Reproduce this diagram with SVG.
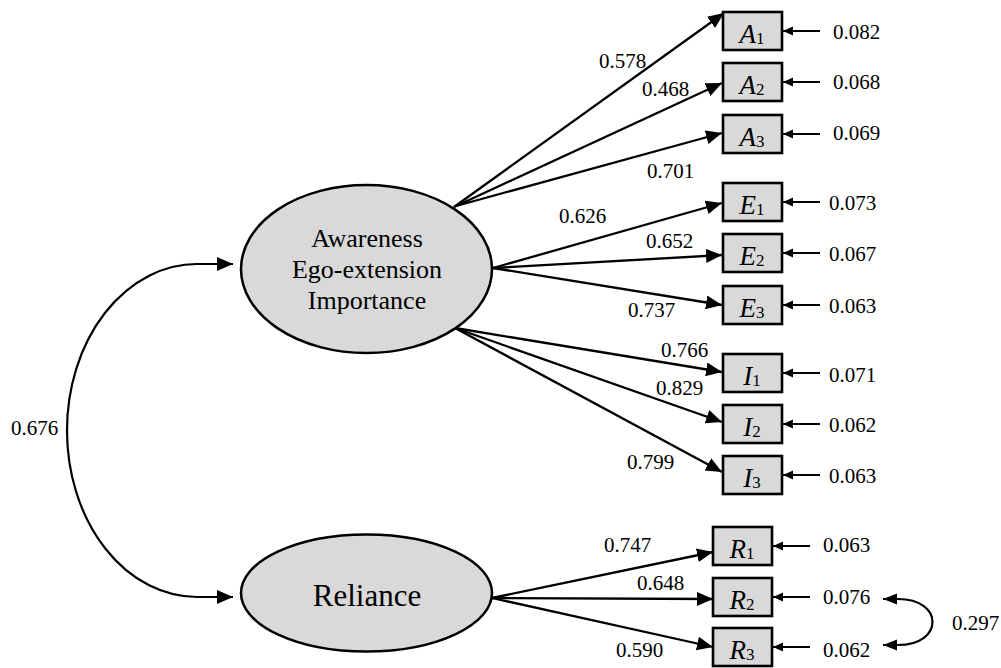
<svg xmlns="http://www.w3.org/2000/svg" width="1001" height="668" viewBox="0 0 1001 668">
<defs>
<marker id="big" markerUnits="userSpaceOnUse" markerWidth="17" markerHeight="15" refX="16" refY="7" orient="auto-start-reverse">
<path d="M0,0 L16,7 L0,14 z" fill="#000"/>
</marker>
<marker id="small" markerUnits="userSpaceOnUse" markerWidth="11" markerHeight="10" refX="10" refY="4.5" orient="auto-start-reverse">
<path d="M0,0 L10,4.5 L0,9 z" fill="#000"/>
</marker>
<marker id="cov" markerUnits="userSpaceOnUse" markerWidth="15" markerHeight="12" refX="14" refY="5.5" orient="auto-start-reverse">
<path d="M0,0 L14,5.5 L0,11 z" fill="#000"/>
</marker>
</defs>
<style>
.box{fill:#d9d9d9;stroke:#000;stroke-width:2.6}
.lat{fill:#d9d9d9;stroke:#000;stroke-width:2.5}
.ln{fill:none;stroke:#000;stroke-width:2.3;marker-end:url(#big)}
.er{fill:none;stroke:#000;stroke-width:2.2;marker-end:url(#small)}
.cv{fill:none;stroke:#000;stroke-width:2.2}
text{font-family:'Liberation Serif','Times New Roman','DejaVu Serif',serif;fill:#000}
.num{font-size:21px}
.lbl{font-size:27px;text-anchor:middle}
.v{font-style:italic}
.s{font-size:17px}
.lt{text-anchor:middle}
</style>
<rect width="1001" height="668" fill="#fff"/>

<g id="connectors">
<path class="ln" d="M454,207 L724,13"/>
<path class="ln" d="M454,207 L722,83"/>
<path class="ln" d="M456,206 L722,133"/>
<path class="ln" d="M493,268 L722,203"/>
<path class="ln" d="M493,268 L722,255"/>
<path class="ln" d="M493,268 L722,305"/>
<path class="ln" d="M455,328 L722,372"/>
<path class="ln" d="M455,328 L722,422"/>
<path class="ln" d="M455,328 L722,472"/>
<path class="ln" d="M492,598 L713,552"/>
<path class="ln" d="M492,598 L713,599"/>
<path class="ln" d="M492,598 L713,647"/>
<path class="er" d="M820,31 L783,31"/>
<path class="er" d="M820,82 L783,82"/>
<path class="er" d="M820,134 L783,134"/>
<path class="er" d="M820,202 L783,202"/>
<path class="er" d="M820,253 L783,253"/>
<path class="er" d="M820,305 L783,305"/>
<path class="er" d="M820,373 L783,373"/>
<path class="er" d="M820,424 L783,424"/>
<path class="er" d="M820,475 L783,475"/>
<path class="er" d="M810,546 L773,546"/>
<path class="er" d="M810,597 L773,597"/>
<path class="er" d="M810,647 L773,647"/>
<path class="cv" d="M233,264 L197,264 A130,166.5 0 0 0 197,597 L233,597" marker-start="url(#big)" marker-end="url(#big)"/>
<path class="cv" d="M883,599 L898,599 C944,599 944,645 898,645 L883,645" marker-start="url(#cov)" marker-end="url(#cov)"/>
</g>

<g id="latent-aei">
<ellipse class="lat" cx="366.5" cy="269" rx="125.5" ry="84"/>
<text class="lt" font-size="26" x="367" y="247">Awareness</text>
<text class="lt" font-size="26" x="367" y="278">Ego-extension</text>
<text class="lt" font-size="26" x="367" y="309">Importance</text>
</g>
<g id="latent-reliance">
<ellipse class="lat" cx="366.5" cy="593" rx="125.5" ry="58.5"/>
<text class="lt" font-size="31" x="367" y="606">Reliance</text>
</g>

<g id="node-A1"><rect class="box" x="723" y="12" width="59" height="38"/><text class="lbl" x="752" y="43"><tspan class="v">A</tspan><tspan class="s" dy="1">1</tspan></text></g>
<g id="node-A2"><rect class="box" x="723" y="63" width="59" height="38"/><text class="lbl" x="752" y="94"><tspan class="v">A</tspan><tspan class="s" dy="1">2</tspan></text></g>
<g id="node-A3"><rect class="box" x="723" y="115" width="59" height="38"/><text class="lbl" x="752" y="146"><tspan class="v">A</tspan><tspan class="s" dy="1">3</tspan></text></g>
<g id="node-E1"><rect class="box" x="723" y="183" width="59" height="38"/><text class="lbl" x="752" y="214"><tspan class="v">E</tspan><tspan class="s" dy="1">1</tspan></text></g>
<g id="node-E2"><rect class="box" x="723" y="234" width="59" height="38"/><text class="lbl" x="752" y="265"><tspan class="v">E</tspan><tspan class="s" dy="1">2</tspan></text></g>
<g id="node-E3"><rect class="box" x="723" y="286" width="59" height="38"/><text class="lbl" x="752" y="317"><tspan class="v">E</tspan><tspan class="s" dy="1">3</tspan></text></g>
<g id="node-I1"><rect class="box" x="723" y="354" width="59" height="38"/><text class="lbl" x="752" y="385"><tspan class="v">I</tspan><tspan class="s" dy="1">1</tspan></text></g>
<g id="node-I2"><rect class="box" x="723" y="405" width="59" height="38"/><text class="lbl" x="752" y="436"><tspan class="v">I</tspan><tspan class="s" dy="1">2</tspan></text></g>
<g id="node-I3"><rect class="box" x="723" y="456" width="59" height="38"/><text class="lbl" x="752" y="487"><tspan class="v">I</tspan><tspan class="s" dy="1">3</tspan></text></g>
<g id="node-R1"><rect class="box" x="713" y="527" width="59" height="38"/><text class="lbl" x="742" y="558"><tspan class="v">R</tspan><tspan class="s" dy="1">1</tspan></text></g>
<g id="node-R2"><rect class="box" x="713" y="578" width="59" height="38"/><text class="lbl" x="742" y="609"><tspan class="v">R</tspan><tspan class="s" dy="1">2</tspan></text></g>
<g id="node-R3"><rect class="box" x="713" y="628" width="59" height="38"/><text class="lbl" x="742" y="659"><tspan class="v">R</tspan><tspan class="s" dy="1">3</tspan></text></g>

<g id="labels">
<text class="num" x="599" y="68">0.578</text>
<text class="num" x="642" y="96">0.468</text>
<text class="num" x="647" y="178">0.701</text>
<text class="num" x="559" y="223">0.626</text>
<text class="num" x="646" y="248">0.652</text>
<text class="num" x="628" y="317">0.737</text>
<text class="num" x="661" y="357">0.766</text>
<text class="num" x="656" y="395">0.829</text>
<text class="num" x="627" y="469">0.799</text>
<text class="num" x="604" y="552">0.747</text>
<text class="num" x="637" y="590">0.648</text>
<text class="num" x="616" y="657">0.590</text>
<text class="num" x="833" y="39">0.082</text>
<text class="num" x="833" y="89">0.068</text>
<text class="num" x="833" y="140">0.069</text>
<text class="num" x="829" y="210">0.073</text>
<text class="num" x="829" y="261">0.067</text>
<text class="num" x="829" y="313">0.063</text>
<text class="num" x="829" y="382">0.071</text>
<text class="num" x="829" y="432">0.062</text>
<text class="num" x="829" y="483">0.063</text>
<text class="num" x="823" y="552">0.063</text>
<text class="num" x="823" y="604">0.076</text>
<text class="num" x="823" y="657">0.062</text>
<text class="num" x="952" y="630">0.297</text>
<text class="num" x="11" y="435">0.676</text>
</g>
</svg>
